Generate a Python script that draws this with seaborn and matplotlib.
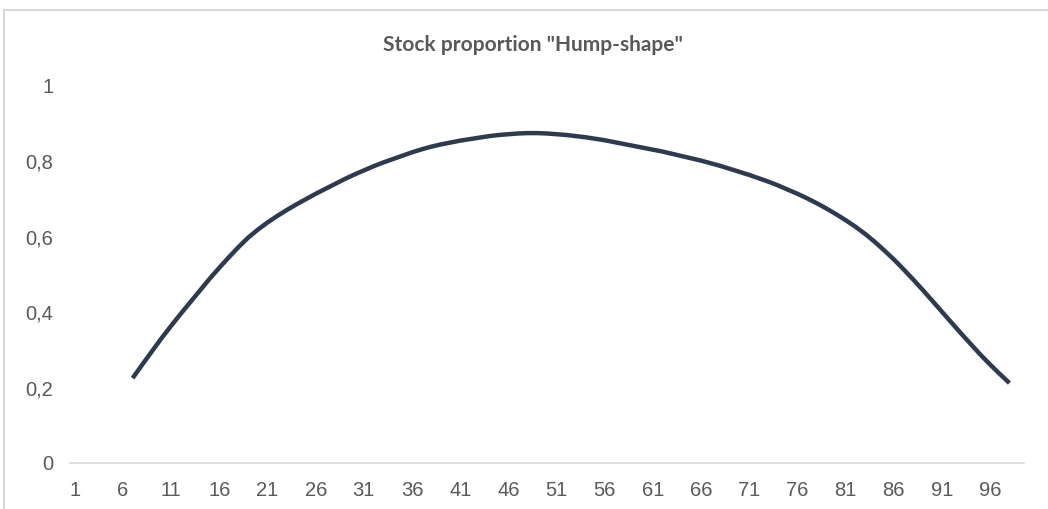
import numpy as np
import pandas as pd
import seaborn as sns
import matplotlib.pyplot as plt
from matplotlib.patches import Rectangle

# x categories 1..99, data present from 7 to 98
categories = list(range(1, 100))
first_cat = 7
stock_share = [
    0.225, 0.261, 0.296, 0.331, 0.364, 0.396, 0.427, 0.458, 0.489, 0.518,  # 7-16
    0.546, 0.573, 0.598, 0.619, 0.638, 0.655, 0.671, 0.686, 0.700, 0.714,  # 17-26
    0.727, 0.740, 0.753, 0.765, 0.776, 0.787, 0.797, 0.806, 0.815, 0.824,  # 27-36
    0.832, 0.839, 0.845, 0.850, 0.855, 0.859, 0.863, 0.867, 0.870, 0.872,  # 37-46
    0.874, 0.875, 0.875, 0.874, 0.872, 0.870, 0.867, 0.864, 0.860, 0.856,  # 47-56
    0.851, 0.846, 0.841, 0.836, 0.831, 0.826, 0.820, 0.814, 0.808, 0.802,  # 57-66
    0.795, 0.788, 0.780, 0.772, 0.764, 0.755, 0.746, 0.736, 0.725, 0.714,  # 67-76
    0.702, 0.689, 0.675, 0.660, 0.644, 0.627, 0.608, 0.587, 0.564, 0.540,  # 77-86
    0.514, 0.487, 0.459, 0.430, 0.401, 0.372, 0.343, 0.315, 0.287, 0.261,  # 87-96
    0.236, 0.212,                                                          # 97-98
]
x_ticks = list(range(1, 100, 5))
y_ticks = [0, 0.2, 0.4, 0.6, 0.8, 1]
y_labels = ["0", "0,2", "0,4", "0,6", "0,8", "1"]

df = pd.DataFrame({
    "cat": list(range(first_cat, first_cat + len(stock_share))),
    "share": stock_share,
})

sns.set_style("white")
plt.rcParams['font.family'] = ['Liberation Sans', 'DejaVu Sans']

fig = plt.figure(figsize=(10.48, 5.09), dpi=100)
ax = fig.add_axes([0.0668, 0.0904, 0.9102, 0.7407])

sns.lineplot(data=df, x="cat", y="share", ax=ax, color="#2E3B4E",
             linewidth=3.2, solid_capstyle="butt")

ax.set_xlim(0.5, categories[-1] + 0.5)
ax.set_ylim(0, 1)
ax.set_xticks(x_ticks)
ax.set_xticklabels([str(t) for t in x_ticks])
ax.set_yticks(y_ticks)
ax.set_yticklabels(y_labels)
ax.tick_params(axis="both", length=0, labelsize=14.5, labelcolor="#595959")
ax.tick_params(axis="x", pad=13)
ax.tick_params(axis="y", pad=12)
ax.set_xlabel("")
ax.set_ylabel("")
for side in ["top", "right", "left"]:
    ax.spines[side].set_visible(False)
ax.spines["bottom"].set_color("#D9D9D9")
ax.spines["bottom"].set_linewidth(1.2)

fig.text(533 / 1048, 1 - 45 / 509, 'Stock proportion "Hump-shape"',
         ha="center", va="center", fontsize=15, fontweight="bold",
         color="#595959", family=["Lato", "DejaVu Sans"])

# chart-area border (only left and top edges visible in the crop)
fig.patches.append(Rectangle((4 / 1048, -0.1), 1.2, 1 - 10 / 509 + 0.1,
                             transform=fig.transFigure, fill=False,
                             edgecolor="#D9D9D9", linewidth=1.5))

fig.savefig("out.png", dpi=100)
